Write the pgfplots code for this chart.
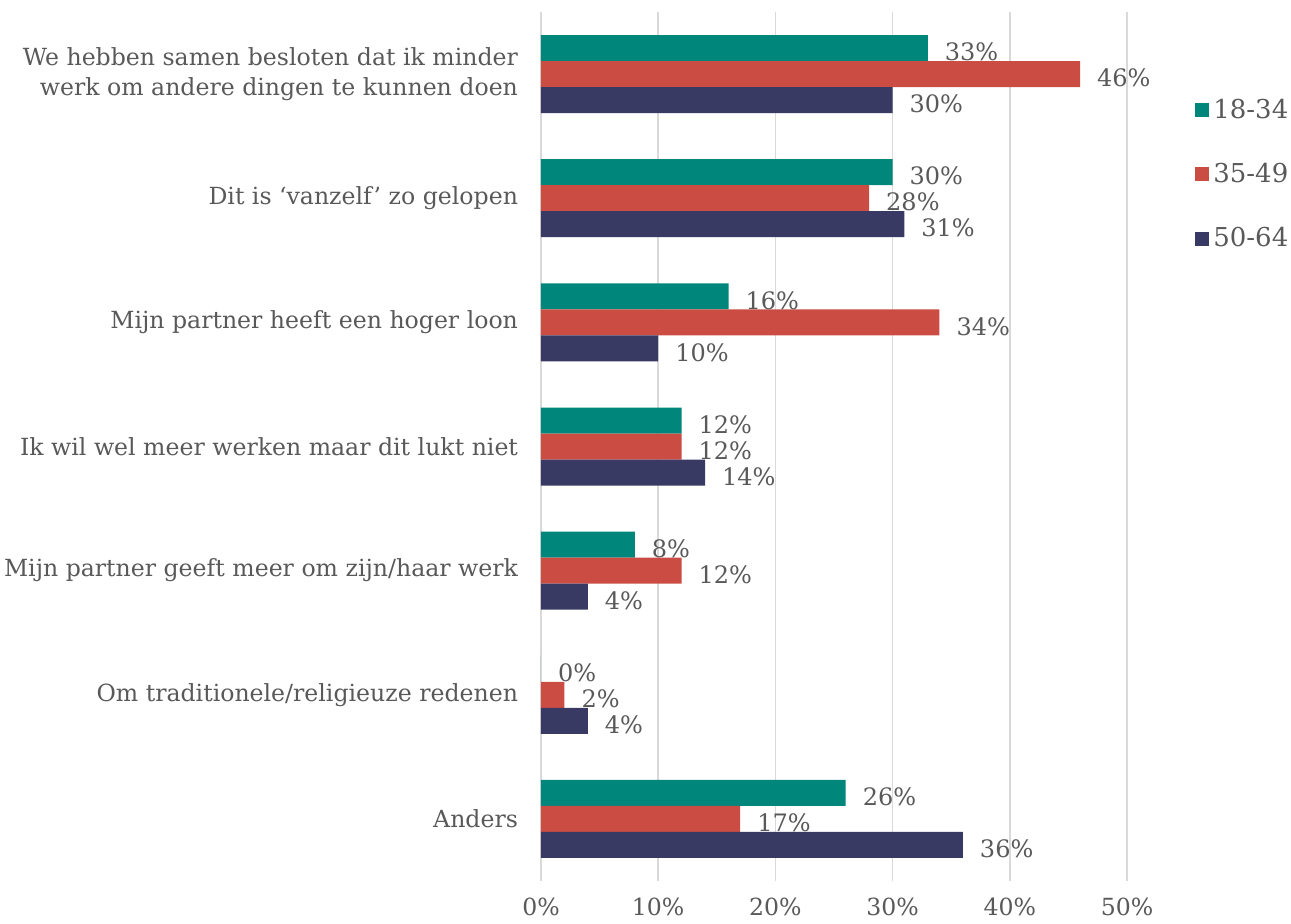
\documentclass[border=0pt]{standalone}
\usepackage{pgfplots}
\pgfplotsset{compat=1.18}
\usepackage{fontspec}
\setmainfont{DejaVu Serif}
\definecolor{cA}{RGB}{0,134,122}
\definecolor{cB}{RGB}{203,76,67}
\definecolor{cC}{RGB}{56,58,100}
\definecolor{txt}{RGB}{89,89,89}
\definecolor{grd}{RGB}{217,217,217}
\begin{document}
\begin{tikzpicture}
\path[use as bounding box] (0,0) rectangle (645.5pt,461.5pt);
\begin{axis}[
  at={(270.5pt,21pt)}, anchor=south west,
  scale only axis, width=293pt, height=434.5pt,
  xbar, bar width=13pt,
  xmin=0, xmax=50, ymin=-0.5, ymax=6.5,
  axis line style={draw=none},
  xmajorgrids, grid style={grd, line width=0.8pt},
  xtick={0,10,20,30,40,50},
  xticklabels={0\%,10\%,20\%,30\%,40\%,50\%},
  xticklabel style={yshift=-5pt},
  major tick length=0pt,
  ytick={0,1,2,3,4,5,6},
  yticklabels={Anders, Om traditionele/religieuze redenen, Mijn partner geeft meer om zijn/haar werk, Ik wil wel meer werken maar dit lukt niet, Mijn partner heeft een hoger loon, Dit is ‘vanzelf’ zo gelopen, {We hebben samen besloten dat ik minder\\werk om andere dingen te kunnen doen}},
  yticklabel style={align=right, xshift=-8pt},
  tick label style={font=\fontsize{11.8}{15}\selectfont, text=txt},
  /pgf/number format/assume math mode=true,
  clip=false,
  nodes near coords={\pgfmathprintnumber{\pgfplotspointmeta}\%},
  nodes near coords style={font=\fontsize{12}{14}\selectfont, text=txt, anchor=west, xshift=5pt, yshift=-2pt},
  every axis plot/.append style={draw=none},
  legend style={at={(1.116,0.905)}, anchor=north west, draw=none, fill=none,
    font=\fontsize{13}{15}\selectfont, text=txt, row sep=17pt, inner sep=0pt},
  legend cell align=left,
  legend image code/.code={\fill[#1] (0pt,-3.5pt) rectangle (7pt,3.5pt);},
]
\addplot[fill=cA, bar shift=13pt] coordinates {(26,0) (0,1) (8,2) (12,3) (16,4) (30,5) (33,6)};
\addplot[fill=cB, bar shift=0pt] coordinates {(17,0) (2,1) (12,2) (12,3) (34,4) (28,5) (46,6)};
\addplot[fill=cC, bar shift=-13pt] coordinates {(36,0) (4,1) (4,2) (14,3) (10,4) (31,5) (30,6)};
\legend{18-34,35-49,50-64}
\end{axis}
\end{tikzpicture}
\end{document}
